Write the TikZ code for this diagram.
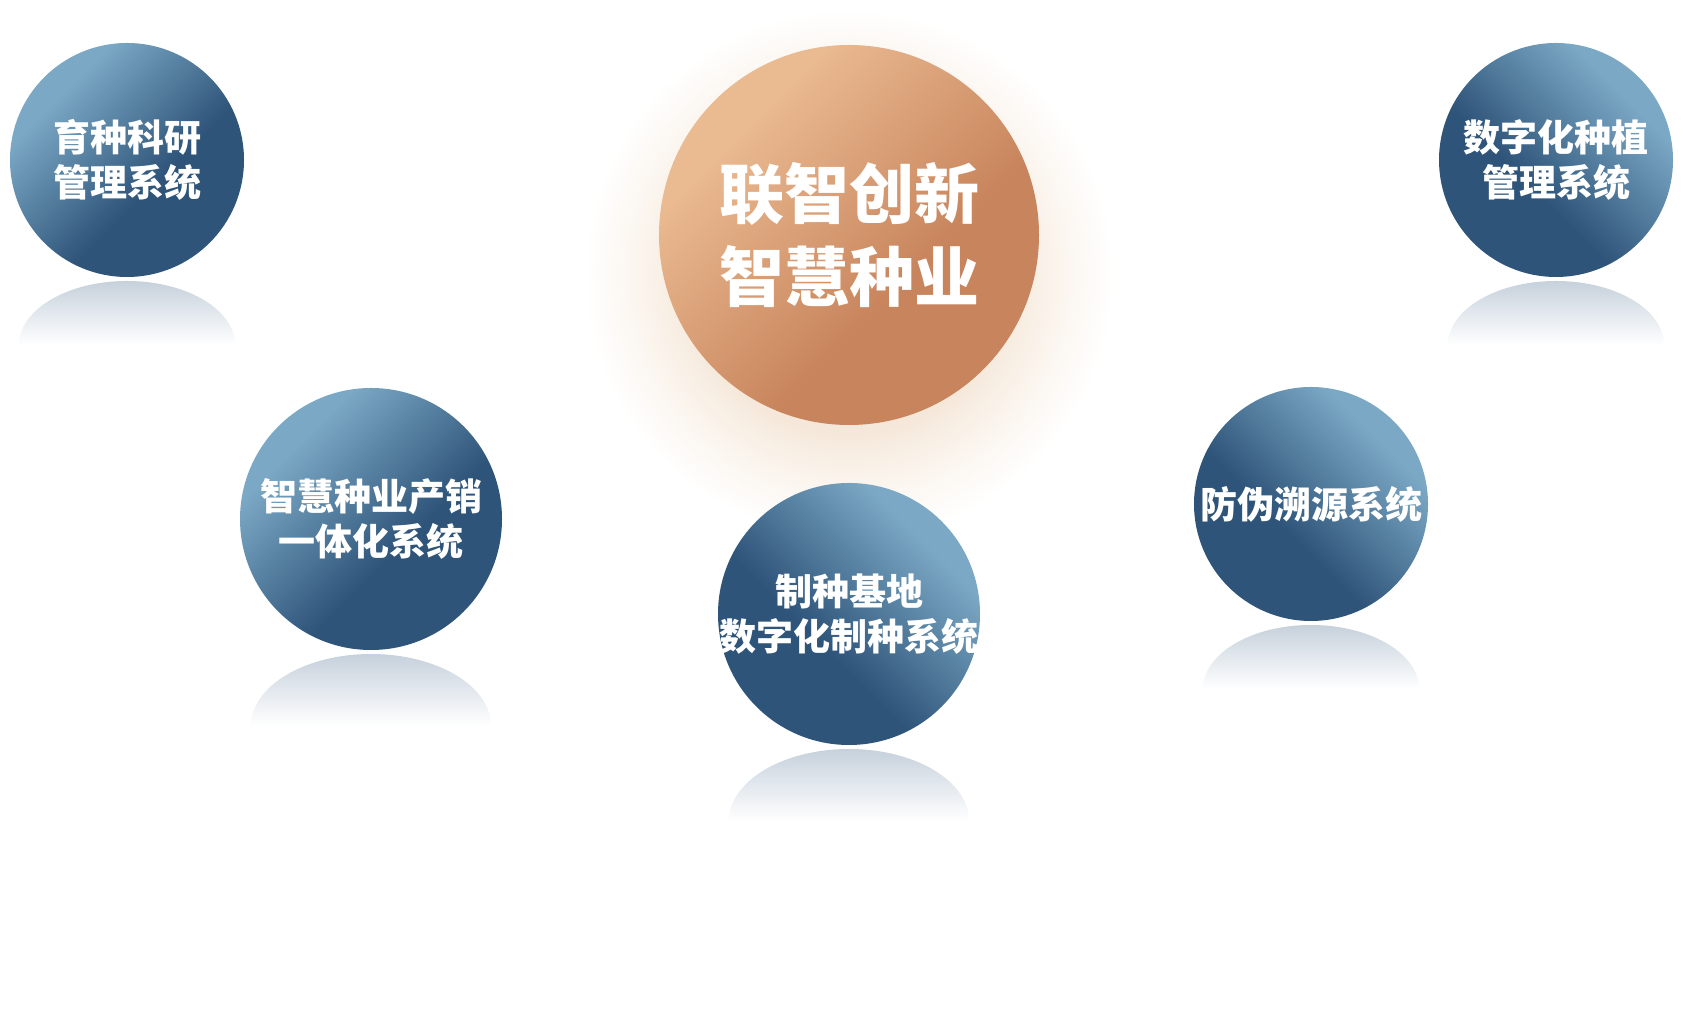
\documentclass[tikz,border=0pt]{standalone}
\usepackage{fontspec}
\newfontfamily\cjk{Noto Sans CJK SC}
\definecolor{ballLight}{HTML}{7BA8C5}
\definecolor{ballDark}{HTML}{2E5479}
\definecolor{coreLight}{HTML}{EABA91}
\definecolor{coreDark}{HTML}{C8845C}
\definecolor{glowc}{HTML}{F5E8DA}
\definecolor{glowmid}{HTML}{FAF3EB}
\definecolor{shadowc}{HTML}{C6D1DC}
\pgfdeclarehorizontalshading{ballshade}{100bp}{color(0bp)=(ballLight); color(30bp)=(ballLight); color(58bp)=(ballDark); color(100bp)=(ballDark)}
\pgfdeclarehorizontalshading{coreshade}{100bp}{color(0bp)=(coreLight); color(30bp)=(coreLight); color(60bp)=(coreDark); color(100bp)=(coreDark)}
\pgfdeclareradialshading{glowshade}{\pgfpoint{0bp}{0bp}}{color(0bp)=(glowc); color(15bp)=(glowc); color(19bp)=(glowmid); color(25bp)=(white); color(50bp)=(white)}

\begin{document}
\begin{tikzpicture}[x=1pt, y=1pt,
  ball/.style={circle, inner sep=0pt, shade, shading=ballshade},
  core/.style={circle, inner sep=0pt, shade, shading=coreshade, shading angle=-45, minimum size=380pt},
  balltext/.style={text=white, align=center, inner sep=0pt, font=\cjk\bfseries\fontsize{37}{45}\selectfont},
  coretext/.style={text=white, align=center, inner sep=0pt, font=\cjk\bfseries\fontsize{65}{83}\selectfont}]
\useasboundingbox (0,0) rectangle (1683,1019);
\fill[white] (0,0) rectangle (1683,1019);

\begin{scope}
\shade[shading=glowshade] (849,745) circle (265);
\shade[top color=shadowc, bottom color=white] (19,674) arc[start angle=180, end angle=0, x radius=108, y radius=64] -- cycle;
\shade[top color=shadowc, bottom color=white] (1448,674) arc[start angle=180, end angle=0, x radius=108, y radius=64] -- cycle;
\shade[top color=shadowc, bottom color=white] (251,293) arc[start angle=180, end angle=0, x radius=120, y radius=72] -- cycle;
\shade[top color=shadowc, bottom color=white] (729,198) arc[start angle=180, end angle=0, x radius=120, y radius=72] -- cycle;
\shade[top color=shadowc, bottom color=white] (1203,330) arc[start angle=180, end angle=0, x radius=108, y radius=64] -- cycle;
\end{scope}

\node[ball, minimum size=234pt, shading angle=-45] (breed) at (127,859) {};
\node[ball, minimum size=234pt, shading angle=225] (plant) at (1556,859) {};
\node[ball, minimum size=262pt, shading angle=-45] (sales) at (371,500) {};
\node[ball, minimum size=262pt, shading angle=225] (base) at (849,405) {};
\node[ball, minimum size=234pt, shading angle=225] (trace) at (1311,515) {};
\node[core] (core) at (849,784) {};

\node[balltext] (breedText) at (breed) {育种科研\\管理系统};
\node[balltext] (plantText) at (plant) {数字化种植\\管理系统};
\node[balltext] (salesText) at (sales) {智慧种业产销\\一体化系统};
\node[balltext] (baseText) at (base) {制种基地\\数字化制种系统};
\node[balltext] (traceText) at (trace) {防伪溯源系统};
\node[coretext] (coreText) at (core) {联智创新\\智慧种业};
\end{tikzpicture}
\end{document}
